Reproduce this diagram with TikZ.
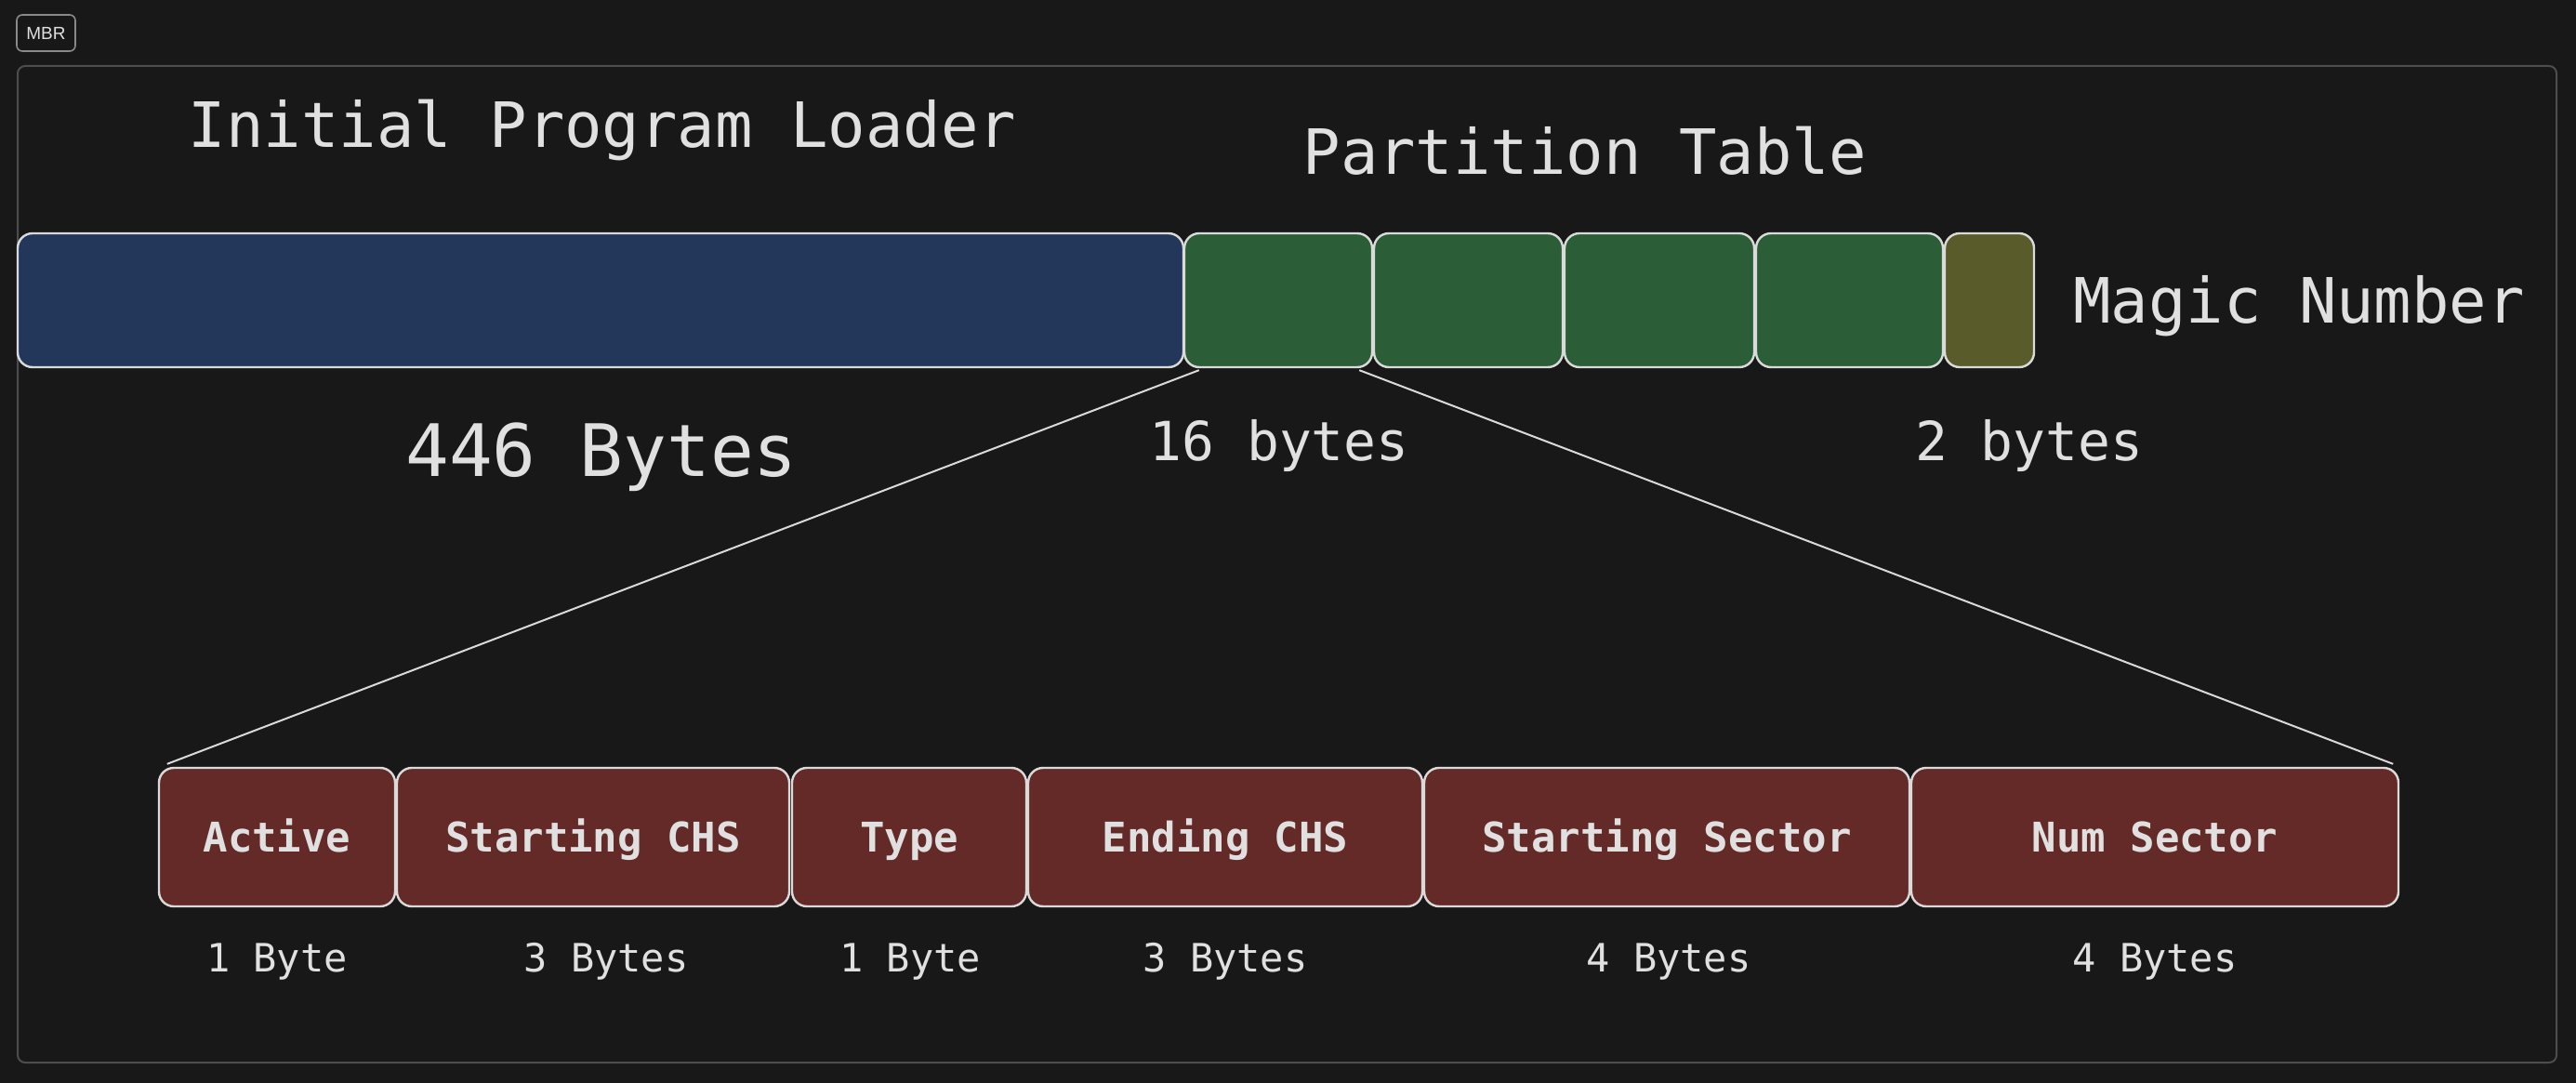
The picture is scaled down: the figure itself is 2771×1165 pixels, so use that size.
\documentclass[tikz,border=0pt]{standalone}
\usepackage{fontspec}
\setmainfont{Liberation Sans}
\newfontfamily\monof{DejaVu Sans Mono}
\usetikzlibrary{calc}
\definecolor{bgc}{HTML}{181818}
\definecolor{txt}{HTML}{E0E0E0}
\definecolor{edge}{HTML}{DADADA}
\definecolor{framec}{HTML}{4D4D4D}
\definecolor{tagc}{HTML}{8A8A8A}
\definecolor{iplc}{HTML}{22375A}
\definecolor{ptc}{HTML}{2B5D36}
\definecolor{magc}{HTML}{5A5B2A}
\definecolor{fldc}{HTML}{632A27}
\tikzset{
  seg/.style={draw=edge, line width=1.2pt, rounded corners=8pt, minimum height=72pt, inner sep=0pt},
  fld/.style={draw=edge, line width=1.2pt, rounded corners=8pt, fill=fldc, minimum height=74.5pt, inner sep=0pt,
    text=txt, font=\monof\bfseries\fontsize{22pt}{26pt}\selectfont, text height=16pt, text depth=0pt},
  title/.style={text=txt, anchor=base, inner sep=0pt, font=\monof\fontsize{33.6pt}{40pt}\selectfont},
  sizelbl/.style={text=txt, anchor=base, inner sep=0pt, font=\monof\fontsize{29pt}{34pt}\selectfont},
  bytelbl/.style={text=txt, anchor=base, inner sep=0pt, font=\monof\fontsize{21pt}{25pt}\selectfont},
  conn/.style={draw=edge, line width=1pt}
}
\begin{document}
\begin{tikzpicture}[x=0.5pt,y=-0.5pt]
\fill[bgc] (0,0) rectangle (2771,1165);
\useasboundingbox (0,0) rectangle (2771,1165);
% tag and frame
\node[draw=tagc, line width=0.8pt, rounded corners=3pt, minimum width=31.5pt, minimum height=19.5pt, inner sep=0pt,
  text=txt, font=\fontsize{9.5pt}{11pt}\selectfont] (tag) at (49.5,35.5) {MBR};
\node[draw=framec, line width=1pt, rounded corners=4pt, minimum width=1365.5pt, minimum height=536pt, inner sep=0pt] (frame) at (1384.5,607) {};
% top row
\node[seg, fill=iplc, minimum width=627pt] (ipl) at (646,323) {};
\node[seg, fill=ptc, minimum width=101pt] (p1) at (1375,323) {};
\node[seg, fill=ptc, minimum width=101.5pt] (p2) at (1579.5,323) {};
\node[seg, fill=ptc, minimum width=102pt] (p3) at (1785,323) {};
\node[seg, fill=ptc, minimum width=100.5pt] (p4) at (1989.5,323) {};
\node[seg, fill=magc, minimum width=48pt] (mag) at (2140,323) {};
% top texts
\node[title] (tipl) at (648,159) {Initial Program Loader};
\node[title] (tpt) at (1705,188) {Partition Table};
\node[title] (tmag) at (2473,348) {Magic Number};
\node[text=txt, anchor=base, inner sep=0pt, font=\monof\fontsize{38.9pt}{46pt}\selectfont] (t446) at (647,512) {446 Bytes};
\node[sizelbl] (t16) at (1376,495) {16 bytes};
\node[sizelbl] (t2) at (2183,495) {2 bytes};
% fields
\node[fld, minimum width=127pt] (act) at (298,900.5) {Active};
\node[fld, minimum width=211pt] (schs) at (638,900.5) {Starting CHS};
\node[fld, minimum width=126pt] (typ) at (978,900.5) {Type};
\node[fld, minimum width=212pt] (echs) at (1318,900.5) {Ending CHS};
\node[fld, minimum width=261pt] (ssec) at (1793,900.5) {Starting Sector};
\node[fld, minimum width=262pt] (nsec) at (2318,900.5) {Num Sector};
% byte labels
\node[bytelbl] (b1) at (298,1045) {1 Byte};
\node[bytelbl] (b2) at (652,1045) {3 Bytes};
\node[bytelbl] (b3) at (979,1045) {1 Byte};
\node[bytelbl] (b4) at (1318,1045) {3 Bytes};
\node[bytelbl] (b5) at (1795,1045) {4 Bytes};
\node[bytelbl] (b6) at (2318,1045) {4 Bytes};
% connectors
\coordinate (l1a) at ($(p1.south west)+(17,2)$);
\coordinate (l1b) at ($(act.north west)+(10,-3)$);
\coordinate (l2a) at ($(p1.south east)+(-15,2)$);
\coordinate (l2b) at ($(nsec.north east)+(-7,-3)$);
\draw[conn] (l1a) -- (l1b);
\draw[conn] (l2a) -- (l2b);
\end{tikzpicture}
\end{document}
